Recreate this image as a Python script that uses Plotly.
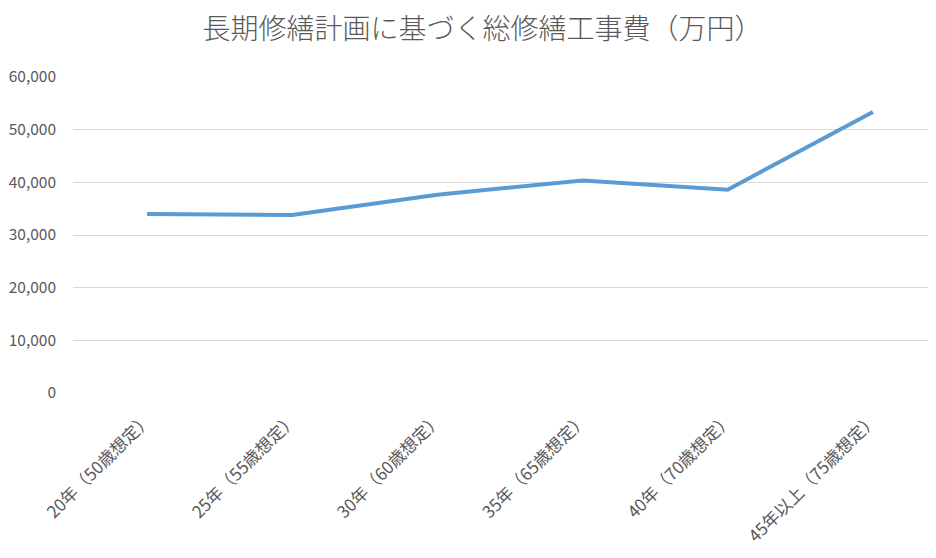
import plotly.graph_objects as go

categories = ["20年（50歳想定）", "25年（55歳想定）", "30年（60歳想定）",
              "35年（65歳想定）", "40年（70歳想定）", "45年以上（75歳想定）"]
values = [34000, 33800, 37650, 40350, 38600, 53350]
y_ticks = [0, 10000, 20000, 30000, 40000, 50000, 60000]

font_family = "Noto Sans CJK JP, Noto Sans, sans-serif"
grey = "#595959"

fig = go.Figure()
fig.add_trace(go.Scatter(
    x=list(range(len(categories))), y=values, mode="lines",
    line=dict(color="#5B9BD5", width=4),
    hoverinfo="skip", showlegend=False,
))

fig.update_layout(
    width=936, height=558,
    paper_bgcolor="white", plot_bgcolor="white",
    margin=dict(l=65, r=0, t=69, b=173),
    title=dict(text="長期修繕計画に基づく総修繕工事費（万円）",
               x=0.507, xanchor="center", y=0.962, yanchor="middle",
               font=dict(family=font_family, size=28, color=grey, weight=300)),
    font=dict(family=font_family, color=grey),
    xaxis=dict(
        range=[-0.51, 5.49],
        tickmode="array", tickvals=list(range(len(categories))), ticktext=categories,
        tickangle=-45, showgrid=False, zeroline=False, showline=False,
        tickfont=dict(family=font_family, size=17, color=grey),
        ticklabelstandoff=12,
        fixedrange=True,
    ),
    yaxis=dict(
        range=[0, 60000], tickmode="array", tickvals=y_ticks,
        tickformat=",", showgrid=True, gridcolor="#D9D9D9", gridwidth=1,
        zeroline=False, showline=False,
        tickfont=dict(family=font_family, size=15.5, color=grey),
        ticklabelstandoff=16,
        fixedrange=True,
    ),
)

fig.write_html("out.html")
